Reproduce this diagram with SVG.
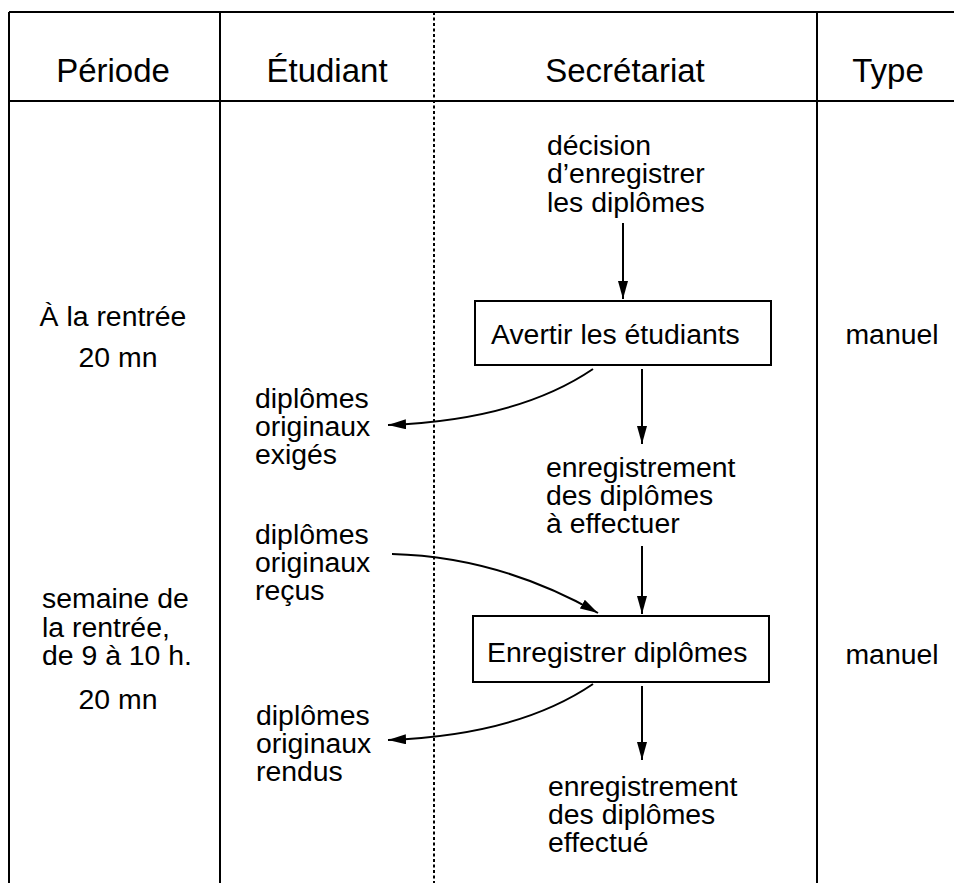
<svg xmlns="http://www.w3.org/2000/svg" width="954" height="883" viewBox="0 0 954 883">
<style>
  text { font-family: "Liberation Sans", Arial, sans-serif; fill: #000; }
  .hdr { font-size: 33px; text-anchor: middle; }
  .t { font-size: 28.4px; }
  .c { text-anchor: middle; }
  .grid { stroke: #000; stroke-width: 2; fill: none; }
  .dot { stroke: #000; stroke-width: 2; stroke-dasharray: 3 2.5; fill: none; }
  .box { stroke: #000; stroke-width: 2; fill: #fff; }
  .arr { stroke: #000; stroke-width: 2; fill: none; marker-end: url(#ah); }
</style>
<defs>
  <marker id="ah" markerUnits="userSpaceOnUse" markerWidth="18" markerHeight="10" refX="18" refY="5" orient="auto">
    <path d="M0,0 L18,5 L0,10 Z" fill="#000"/>
  </marker>
</defs>
<rect width="954" height="883" fill="#fff"/>
<g id="table">
  <path class="grid" d="M9,12 H954 M9,101 H954 M9,12 V883 M220,12 V883 M817,12 V883"/>
  <path class="dot" d="M434,12 V883"/>
  <text class="hdr" x="113" y="82">Période</text>
  <text class="hdr" x="327" y="82">Étudiant</text>
  <text class="hdr" x="625" y="82">Secrétariat</text>
  <text class="hdr" x="888" y="82">Type</text>
</g>
<g id="periode1">
  <text class="t c" x="113" y="326">À la rentrée</text>
  <text class="t c" x="118" y="367">20 mn</text>
</g>
<g id="periode2">
  <text class="t" x="42" y="608">semaine de</text>
  <text class="t" x="42" y="637">la rentrée,</text>
  <text class="t" x="42" y="665">de 9 à 10 h.</text>
  <text class="t c" x="118" y="709">20 mn</text>
</g>
<g id="type1"><text class="t c" x="892" y="344">manuel</text></g>
<g id="type2"><text class="t c" x="892" y="664">manuel</text></g>
<g id="decision">
  <text class="t" x="547" y="155">décision</text>
  <text class="t" x="547" y="183">d’enregistrer</text>
  <text class="t" x="547" y="212">les diplômes</text>
</g>
<g id="avertir">
  <rect class="box" x="475" y="301" width="296" height="64"/>
  <text class="t" x="491" y="344">Avertir les étudiants</text>
</g>
<g id="exiges">
  <text class="t" x="255" y="408">diplômes</text>
  <text class="t" x="255" y="436">originaux</text>
  <text class="t" x="255" y="464">exigés</text>
</g>
<g id="aeffectuer">
  <text class="t" x="546" y="477">enregistrement</text>
  <text class="t" x="546" y="505">des diplômes</text>
  <text class="t" x="546" y="533">à effectuer</text>
</g>
<g id="recus">
  <text class="t" x="255" y="544">diplômes</text>
  <text class="t" x="255" y="572">originaux</text>
  <text class="t" x="255" y="600">reçus</text>
</g>
<g id="enregistrer">
  <rect class="box" x="473" y="616" width="296" height="66"/>
  <text class="t" x="487" y="662">Enregistrer diplômes</text>
</g>
<g id="rendus">
  <text class="t" x="256" y="725">diplômes</text>
  <text class="t" x="256" y="753">originaux</text>
  <text class="t" x="256" y="781">rendus</text>
</g>
<g id="effectue">
  <text class="t" x="548" y="796">enregistrement</text>
  <text class="t" x="548" y="824">des diplômes</text>
  <text class="t" x="548" y="852">effectué</text>
</g>
<g id="connectors">
  <path class="arr" d="M623,223 V299"/>
  <path class="arr" d="M642,369 V444"/>
  <path class="arr" d="M593,369 C540,405 470,422 388,425"/>
  <path class="arr" d="M642,546 V614"/>
  <path class="arr" d="M392,554 C470,556 540,580 598,613"/>
  <path class="arr" d="M642,686 V760"/>
  <path class="arr" d="M593,684 C540,720 470,737 388,740"/>
</g>
</svg>
